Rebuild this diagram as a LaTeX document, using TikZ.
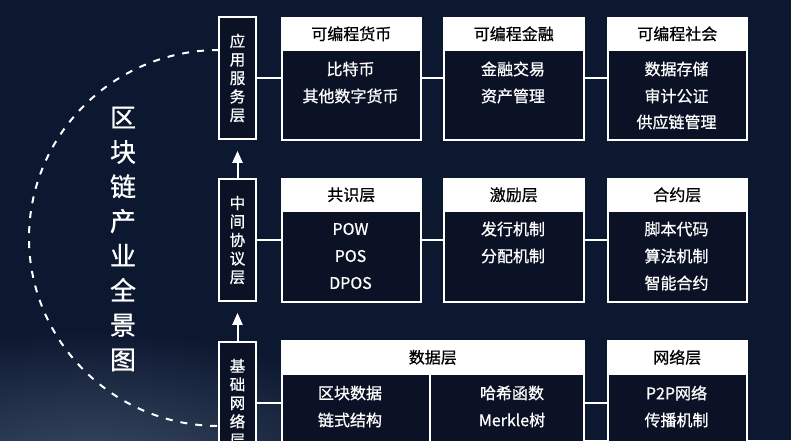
\documentclass[tikz,border=0pt]{standalone}
\usepackage{fontspec}
\setmainfont{Noto Sans CJK SC}[FakeBold=0.7]
\usetikzlibrary{arrows.meta}
\definecolor{bg}{RGB}{12,24,48}
\definecolor{panelc}{RGB}{11,18,38}
\definecolor{glow}{RGB}{62,78,104}
\begin{document}
\begin{tikzpicture}[x=1pt,y=-1pt,
  band/.style={fill=white, draw=white, line width=1.6pt, anchor=north west, inner sep=0pt,
    text=black, font=\fontsize{16}{16}\selectfont},
  panel/.style={fill=panelc, draw=white, line width=1.6pt, anchor=north west, inner sep=0pt},
  itm/.style={text=white, font=\fontsize{16}{16}\selectfont, inner sep=0pt, anchor=center},
  side/.style={draw=white, fill=panelc, line width=1.6pt, minimum width=37pt, minimum height=122pt,
    inner sep=0pt, align=center, text=white, font=\fontsize{15.5}{18.5}\selectfont},
  link/.style={draw=white, line width=1.6pt},
  uparrow/.style={draw=white, line width=2pt, -{Triangle[width=10pt,length=12pt]}, shorten >=11pt},
  arcline/.style={draw=white, line width=2pt, dash pattern=on 7pt off 8pt}
]
\clip (0,0) rectangle (791,440);
\fill[bg] (0,0) rectangle (791,440);
\shade[inner color=glow, outer color=bg] (90,480) ellipse [x radius=320pt, y radius=150pt];

% main title
\node[text=white, align=center, inner sep=0pt, font=\fontsize{26}{34.6}\selectfont] (title) at (123,239)
  {区\\块\\链\\产\\业\\全\\景\\图};

% dashed arc
\coordinate (arcS) at (219,50);
\draw[arcline] (arcS) arc[start angle=90, end angle=270, x radius=190pt, y radius=188pt];

% side boxes
\node[side] (s1) at (237.5,78) {应\\用\\服\\务\\层};
\node[side] (s2) at (237.5,240) {中\\间\\协\\议\\层};
\node[side] (s3) at (237.5,403) {基\\础\\网\\络\\层};

% row 1
\node[band, minimum width=139pt, minimum height=32pt] (t11) at (281,17) {可编程货币};
\node[panel, minimum width=139pt, minimum height=90pt] (p11) at (281,49) {};
\node[band, minimum width=140pt, minimum height=32pt] (t12) at (443,17) {可编程金融};
\node[panel, minimum width=140pt, minimum height=90pt] (p12) at (443,49) {};
\node[band, minimum width=139pt, minimum height=32pt] (t13) at (607,17) {可编程社会};
\node[panel, minimum width=139pt, minimum height=90pt] (p13) at (607,49) {};
\node[itm] (i11a) at (350.5,69) {比特币};
\node[itm] (i11b) at (350.5,96) {其他数字货币};
\node[itm] (i12a) at (513,69) {金融交易};
\node[itm] (i12b) at (513,96) {资产管理};
\node[itm] (i13a) at (676.5,69) {数据存储};
\node[itm] (i13b) at (676.5,96) {审计公证};
\node[itm] (i13c) at (676.5,122) {供应链管理};

% row 2
\node[band, minimum width=139pt, minimum height=32pt] (t21) at (281,178) {共识层};
\node[panel, minimum width=139pt, minimum height=91pt] (p21) at (281,210) {};
\node[band, minimum width=140pt, minimum height=32pt] (t22) at (443,178) {激励层};
\node[panel, minimum width=140pt, minimum height=91pt] (p22) at (443,210) {};
\node[band, minimum width=139pt, minimum height=32pt] (t23) at (607,178) {合约层};
\node[panel, minimum width=139pt, minimum height=91pt] (p23) at (607,210) {};
\node[itm] (i21a) at (350.5,229) {POW};
\node[itm] (i21b) at (350.5,256) {POS};
\node[itm] (i21c) at (350.5,283) {DPOS};
\node[itm] (i22a) at (513,229) {发行机制};
\node[itm] (i22b) at (513,256) {分配机制};
\node[itm] (i23a) at (676.5,229) {脚本代码};
\node[itm] (i23b) at (676.5,256) {算法机制};
\node[itm] (i23c) at (676.5,283) {智能合约};

% row 3
\node[band, minimum width=302pt, minimum height=33pt] (t31) at (281,340) {数据层};
\node[panel, minimum width=302pt, minimum height=100pt] (p31) at (281,373) {};
\node[band, minimum width=139pt, minimum height=33pt] (t33) at (607,340) {网络层};
\node[panel, minimum width=139pt, minimum height=100pt] (p33) at (607,373) {};
\coordinate (dv) at (430,373);
\draw[link] (dv) -- (dv |- p31.south);
\node[itm] (i31a) at (350,393) {区块数据};
\node[itm] (i31b) at (350,420) {链式结构};
\node[itm] (i32a) at (512,393) {哈希函数};
\node[itm] (i32b) at (512,420) {Merkle树};
\node[itm] (i33a) at (676.5,393) {P2P网络};
\node[itm] (i33b) at (676.5,420) {传播机制};

% connectors
\draw[link] (s1.east) -- (s1.east -| p11.west);
\draw[link] (s1.east -| p11.east) -- (s1.east -| p12.west);
\draw[link] (s1.east -| p12.east) -- (s1.east -| p13.west);
\draw[link] (s2.east) -- (s2.east -| p21.west);
\draw[link] (s2.east -| p21.east) -- (s2.east -| p22.west);
\draw[link] (s2.east -| p22.east) -- (s2.east -| p23.west);
\draw[link] (s3.east) -- (s3.east -| p31.west);
\draw[link] (s3.east -| p31.east) -- (s3.east -| p33.west);

% arrows
\draw[uparrow] (s2.north) -- (s1.south);
\draw[uparrow] (s3.north) -- (s2.south);
\end{tikzpicture}
\end{document}
